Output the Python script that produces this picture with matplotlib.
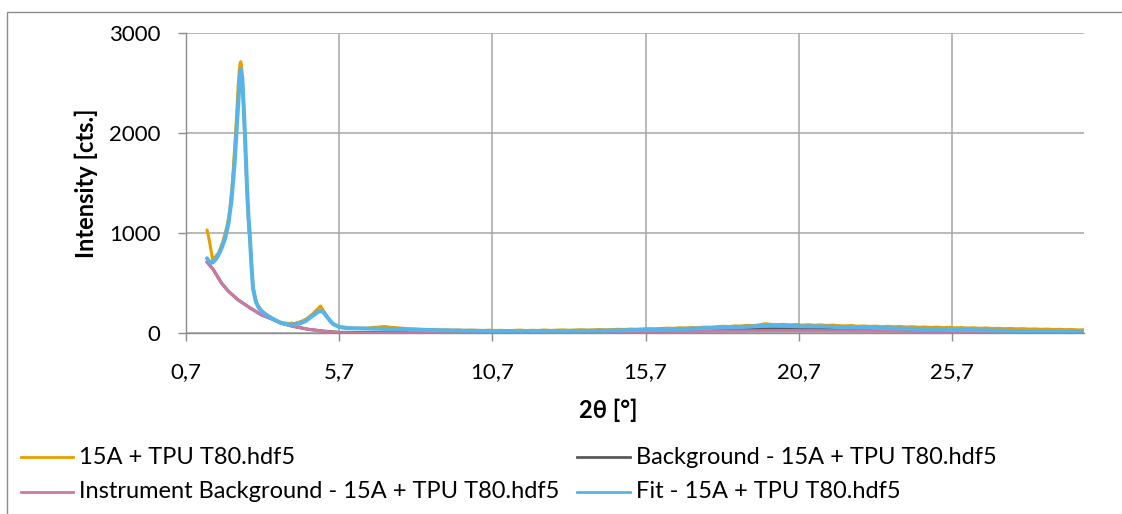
import matplotlib
matplotlib.use("Agg")
import matplotlib.pyplot as plt
from matplotlib.lines import Line2D
from matplotlib.patches import Rectangle

# ---------------- data ----------------
meas_x = [1.40, 1.43, 1.46, 1.49, 1.52, 1.55, 1.58, 1.61, 1.64, 1.67, 1.70, 1.73, 1.76, 1.79,
          1.82, 1.85, 1.88, 1.91, 1.94, 1.97, 2.00, 2.03, 2.06, 2.09, 2.12, 2.15, 2.18, 2.21,
          2.24, 2.27, 2.30, 2.33, 2.36, 2.39, 2.42, 2.45, 2.48, 2.50, 2.52, 2.55, 2.58, 2.61,
          2.64, 2.67, 2.70, 2.73, 2.76, 2.79, 2.82, 2.85, 2.88, 2.91, 2.94, 2.97, 3.00, 3.05,
          3.10, 3.15, 3.20, 3.25, 3.30, 3.35, 3.40, 3.45, 3.50, 3.55, 3.60, 3.65, 3.70, 3.75,
          3.80, 3.85, 3.90, 3.95, 4.00, 4.05, 4.10, 4.15, 4.20, 4.25, 4.30, 4.35, 4.40, 4.45,
          4.50, 4.55, 4.60, 4.65, 4.70, 4.75, 4.80, 4.85, 4.90, 4.95, 5.00, 5.05, 5.10, 5.15,
          5.20, 5.25, 5.30, 5.35, 5.40, 5.45, 5.50, 5.55, 5.60, 5.65, 5.70, 5.75, 5.80, 5.90,
          6.00, 6.2, 6.4, 6.6, 6.8, 7.0, 7.2, 7.4, 7.6, 7.8, 8.0, 8.2, 8.4, 8.6, 8.8, 9.0, 9.2,
          9.4, 9.6, 9.8, 10.0, 10.2, 10.4, 10.6, 10.8, 11.0, 11.2, 11.4, 11.6, 11.8, 12.0, 12.2,
          12.4, 12.6, 12.8, 13.0, 13.2, 13.4, 13.6, 13.8, 14.0, 14.2, 14.4, 14.6, 14.8, 15.0,
          15.2, 15.4, 15.6, 15.8, 16.0, 16.2, 16.4, 16.6, 16.8, 17.0, 17.2, 17.4, 17.6, 17.8,
          18.0, 18.2, 18.4, 18.6, 18.8, 19.0, 19.2, 19.4, 19.6, 19.8, 20.0, 20.2, 20.4, 20.6,
          20.8, 21.0, 21.2, 21.4, 21.6, 21.8, 22.0, 22.2, 22.4, 22.6, 22.8, 23.0, 23.2, 23.4,
          23.6, 23.8, 24.0, 24.2, 24.4, 24.6, 24.8, 25.0, 25.2, 25.4, 25.6, 25.8, 26.0, 26.2,
          26.4, 26.6, 26.8, 27.0, 27.2, 27.4, 27.6, 27.8, 28.0, 28.2, 28.4, 28.6, 28.8, 29.0,
          29.2, 29.4, 29.6, 29.8, 30.0]
meas_y = [1033, 1000, 955, 905, 850, 790, 745, 716, 760, 735, 775, 790, 770, 815,
          840, 860, 890, 905, 945, 975, 1010, 1045, 1080, 1130, 1180, 1250, 1360, 1440,
          1560, 1700, 1850, 1990, 2150, 2330, 2490, 2620, 2700, 2716, 2690, 2560, 2360, 2130,
          1900, 1650, 1420, 1230, 1080, 960, 830, 690, 560, 460, 400, 350, 320, 285,
          262, 240, 222, 210, 195, 185, 172, 168, 150, 146, 135, 128, 122, 117,
          110, 108, 100, 104, 96, 100, 92, 104, 98, 95, 103, 110, 108, 118,
          122, 130, 138, 146, 158, 170, 182, 195, 210, 228, 240, 258, 273, 248,
          226, 200, 176, 150, 130, 112, 100, 88, 80, 74, 66, 60, 57, 52,
          55, 48, 52, 50, 58, 62, 68, 60, 55, 50, 45, 42, 40, 36, 38, 32, 35,
          30, 33, 28, 32, 30, 27, 31, 28, 30, 26, 29, 32, 27, 30, 28,
          33, 29, 31, 34, 30, 33, 36, 32, 35, 38, 34, 37, 40, 38,
          42, 40, 44, 46, 43, 48, 52, 49, 55, 53, 58, 56, 62, 60,
          65, 70, 67, 74, 72, 80, 76, 84, 96, 88, 85, 90, 84, 88,
          82, 86, 80, 84, 78, 82, 76, 74, 78, 70, 74, 68, 72, 66,
          70, 65, 68, 62, 66, 60, 63, 58, 62, 56, 60, 54, 57, 52,
          55, 50, 53, 48, 50, 46, 48, 44, 46, 42, 44, 40, 42, 38,
          40, 36, 38, 34, 35]

fit_x = [1.40, 1.45, 1.50, 1.55, 1.60, 1.70, 1.80, 1.90, 2.00, 2.10, 2.20, 2.30, 2.40, 2.45,
         2.50, 2.55, 2.60, 2.65, 2.70, 2.75, 2.80, 2.85, 2.90, 3.00, 3.10, 3.20, 3.40, 3.60,
         3.80, 4.00, 4.20, 4.40, 4.60, 4.80, 5.00, 5.10, 5.20, 5.35, 5.50, 5.70, 6.00, 6.50,
         7.0, 7.5, 8.0, 9.0, 10.0, 11.0, 12.0, 13.0, 14.0, 15.0, 16.0, 17.0, 18.0, 19.0,
         19.75, 20.0, 20.7, 21.5, 22.0, 23.0, 24.0, 25.0, 26.0, 27.0, 28.0, 29.0, 30.0]
fit_y = [750, 728, 712, 706, 712, 745, 800, 870, 960, 1100, 1330, 1700, 2200, 2450,
         2640, 2560, 2250, 1900, 1500, 1180, 960, 680, 450, 310, 250, 215, 170, 135,
         105, 90, 85, 95, 120, 165, 210, 225, 210, 150, 95, 65, 52, 48,
         45, 42, 38, 30, 25, 22, 22, 23, 25, 30, 38, 45, 55, 65,
         80, 78, 70, 68, 62, 55, 48, 42, 35, 28, 22, 16, 10]

inst_x = [1.40, 1.60, 1.88, 2.10, 2.42, 2.80, 3.18, 3.50, 3.84, 4.20, 4.70, 5.20, 5.68,
          6.5, 8.0, 10.0, 12.0, 15.0, 18.0, 20.0, 22.0, 25.0, 28.0, 30.0]
inst_y = [713, 640, 500, 420, 333, 255, 183, 145, 100, 70, 40, 20, 7,
          3, 5, 5, 8, 15, 22, 27, 25, 18, 10, 5]

bg_x = [1.40, 1.60, 1.88, 2.10, 2.42, 2.80, 3.18, 3.50, 3.84, 4.20, 4.70, 5.20, 5.68,
        6.5, 8.0, 10.0, 12.0, 15.0, 18.0, 20.0, 22.0, 25.0, 28.0, 30.0]
bg_y = [713, 640, 500, 420, 333, 255, 183, 145, 100, 70, 40, 22, 10,
        7, 10, 12, 16, 26, 40, 45, 42, 30, 18, 10]

labels = ["15A + TPU T80.hdf5",
          "Background - 15A + TPU T80.hdf5",
          "Instrument Background - 15A + TPU T80.hdf5",
          "Fit - 15A + TPU T80.hdf5"]
colors = ["#E69F00", "#595959", "#CC79A7", "#56B4E9"]

x_ticks = [0.7, 5.7, 10.7, 15.7, 20.7, 25.7]
x_tick_labels = ["0,7", "5,7", "10,7", "15,7", "20,7", "25,7"]
y_ticks = [0, 1000, 2000, 3000]
x_min, x_max = 0.7, 30.0
y_min, y_max = 0, 3000

# ---------------- figure ----------------
plt.rcParams['font.family'] = ['Lato', 'DejaVu Sans']
W, H = 1122, 514
fig = plt.figure(figsize=(W / 100, H / 100), dpi=100)

# outer chart border
fig.add_artist(Rectangle((7 / W, -0.1), 1.2, 1 - 12 / H + 0.1, transform=fig.transFigure,
                         fill=False, edgecolor="#8c8c8c", linewidth=1.0))

L, R, T, B = 185.5, 1084.3, 33.3, 333.3
ax = fig.add_axes([L / W, 1 - B / H, (R - L) / W, (B - T) / H])

series = [(meas_x, meas_y, 2.2), (bg_x, bg_y, 2.2), (inst_x, inst_y, 2.2), (fit_x, fit_y, 2.9)]
for (xs, ys, lw), c in zip(series, colors):
    ax.plot(xs, ys, color=c, linewidth=lw, solid_joinstyle="round", solid_capstyle="round")

ax.set_xlim(x_min, x_max)
ax.set_ylim(y_min, y_max)
ax.set_xticks(x_ticks)
ax.set_xticklabels(x_tick_labels)
ax.set_yticks(y_ticks)
ax.grid(True, color="#a6a6a6", linewidth=1.1)
ax.set_axisbelow(True)
for s in ["top", "right"]:
    ax.spines[s].set_visible(False)
for s in ["left", "bottom"]:
    ax.spines[s].set_color("#8c8c8c")
    ax.spines[s].set_linewidth(1.0)
ax.tick_params(axis="both", direction="out", length=6, width=1.0, color="#8c8c8c",
               labelsize=16, labelcolor="#000000")
ax.tick_params(axis="y", pad=12)
ax.tick_params(axis="x", pad=15)

ax.set_xlabel("2θ [°]", fontsize=17, fontweight="bold")
ax.xaxis.label.set_va("center")
ax.xaxis.set_label_coords((608 - L) / (R - L), (B - 410) / (B - T))
ax.set_ylabel("Intensity [cts.]", fontsize=17, fontweight="bold")
ax.yaxis.label.set_va("center")
ax.yaxis.set_label_coords((86 - L) / (R - L), 0.5)

# legend (two columns, drawn in figure coordinates)
leg_rows = [457, 492]
leg_cols = [(21, 73, 79), (577, 630, 636)]
order = [(0, 0, 0), (1, 1, 0), (2, 0, 1), (3, 1, 1)]  # series, col, row
for si, ci, ri in order:
    x0, x1, xt = leg_cols[ci]
    yy = 1 - leg_rows[ri] / H
    fig.add_artist(Line2D([x0 / W, x1 / W], [yy, yy], transform=fig.transFigure,
                          color=colors[si], linewidth=2.0))
    fig.text(xt / W, yy, labels[si], fontsize=17, va="center", ha="left", color="#000000")

fig.savefig("out.png", dpi=100)
